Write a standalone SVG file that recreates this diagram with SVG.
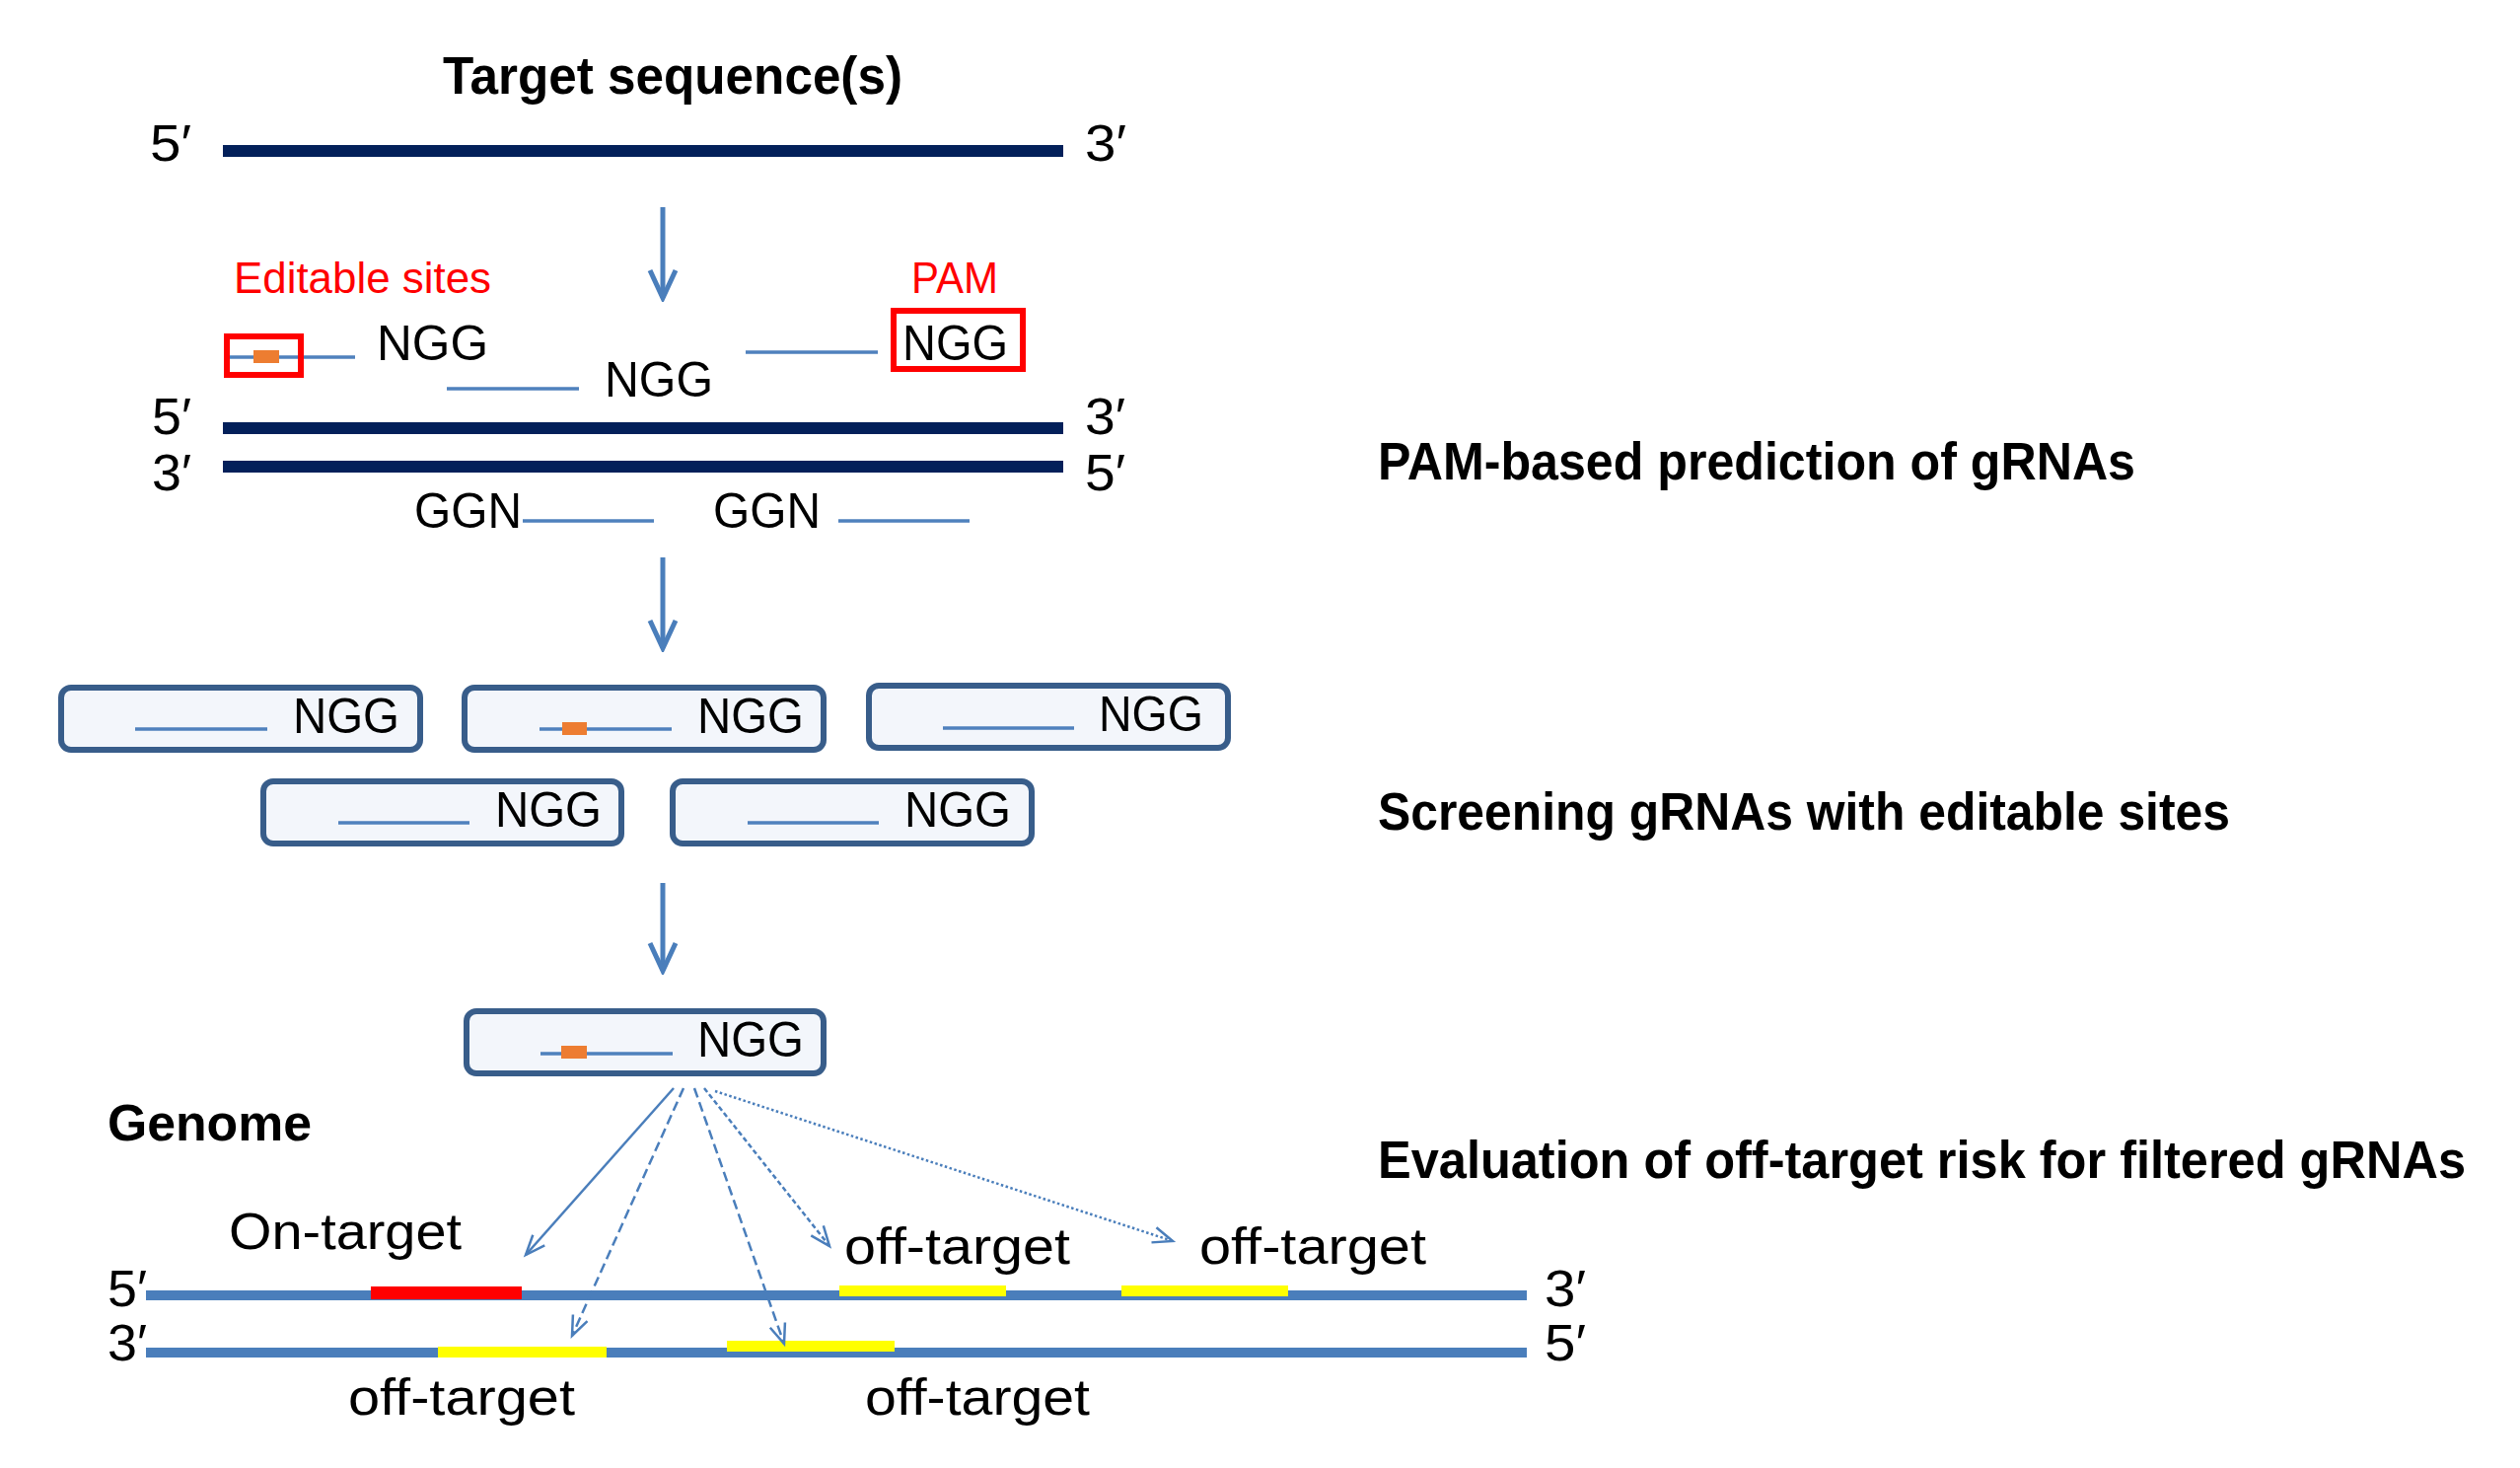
<svg xmlns="http://www.w3.org/2000/svg" width="2555" height="1488" viewBox="0 0 2555 1488">
<style>
text{font-family:"Liberation Sans",Arial,sans-serif;fill:#000}
.b{font-weight:bold}
.t52{font-size:52px}
.t50{font-size:50px}
.red{fill:#ff0000;font-size:44px}
.navy{stroke:#03205a;stroke-width:12;fill:none}
.thin{stroke:#4f81bd;stroke-width:3.5;fill:none}
.gbox{fill:#f3f6fb;stroke:#385d8a;stroke-width:6}
.orange{fill:#ed7d31}
.main{stroke:#4a7ebb;stroke-width:5;fill:none}
.fan{stroke:#4a7ebb;stroke-width:2.5;fill:none}
.strand{stroke:#4a7ebb;stroke-width:10;fill:none}
</style>
<defs>
<marker id="big" viewBox="-34 -18 38 36" markerWidth="38" markerHeight="36" refX="0" refY="0" orient="auto" markerUnits="userSpaceOnUse">
<path d="M-28,-13 L0,0 L-28,13" fill="none" stroke="#4a7ebb" stroke-width="5"/>
</marker>
<marker id="small" viewBox="-24 -12 28 24" markerWidth="28" markerHeight="24" refX="0" refY="0" orient="auto" markerUnits="userSpaceOnUse">
<path d="M-20,-8 L0,0 L-20,8" fill="none" stroke="#4a7ebb" stroke-width="2.5"/>
</marker>
</defs>
<rect width="2555" height="1488" fill="#fff"/>

<g id="target-sequence">
<text class="b" x="449" y="95" font-size="54" textLength="466" lengthAdjust="spacingAndGlyphs">Target sequence(s)</text>
<line class="navy" x1="226" y1="153" x2="1078" y2="153"/>
<text class="t52" x="152" y="163" textLength="42" lengthAdjust="spacingAndGlyphs">5′</text>
<text class="t52" x="1100" y="163" textLength="42" lengthAdjust="spacingAndGlyphs">3′</text>
</g>

<g id="pam-prediction">
<text class="red" x="237" y="297" textLength="261" lengthAdjust="spacingAndGlyphs">Editable sites</text>
<text class="red" x="924" y="297" textLength="88" lengthAdjust="spacingAndGlyphs">PAM</text>
<line class="thin" x1="227" y1="362" x2="360" y2="362"/>
<rect class="orange" x="257" y="355" width="26" height="13"/>
<rect x="230" y="341" width="75" height="39" fill="none" stroke="#ff0000" stroke-width="6"/>
<text class="t50" x="382" y="365" textLength="113" lengthAdjust="spacingAndGlyphs">NGG</text>
<line class="thin" x1="453" y1="394" x2="587" y2="394"/>
<text class="t50" x="613" y="402" textLength="110" lengthAdjust="spacingAndGlyphs">NGG</text>
<line class="thin" x1="756" y1="357" x2="890" y2="357"/>
<rect x="906" y="315" width="131" height="59" fill="none" stroke="#ff0000" stroke-width="6"/>
<text class="t50" x="915" y="365" textLength="107" lengthAdjust="spacingAndGlyphs">NGG</text>
<line class="navy" x1="226" y1="434" x2="1078" y2="434"/>
<line class="navy" x1="226" y1="473" x2="1078" y2="473"/>
<text class="t52" x="154" y="440" textLength="40" lengthAdjust="spacingAndGlyphs">5′</text>
<text class="t52" x="1100" y="440" textLength="41" lengthAdjust="spacingAndGlyphs">3′</text>
<text class="t52" x="154" y="497" textLength="40" lengthAdjust="spacingAndGlyphs">3′</text>
<text class="t52" x="1100" y="497" textLength="41" lengthAdjust="spacingAndGlyphs">5′</text>
<text class="t50" x="420" y="535" textLength="109" lengthAdjust="spacingAndGlyphs">GGN</text>
<line class="thin" x1="530" y1="528" x2="663" y2="528"/>
<text class="t50" x="723" y="535" textLength="109" lengthAdjust="spacingAndGlyphs">GGN</text>
<line class="thin" x1="850" y1="528" x2="983" y2="528"/>
</g>

<g id="grna-1">
<rect class="gbox" x="62" y="697" width="364" height="63" rx="10"/>
<line class="thin" x1="137" y1="739" x2="271" y2="739"/>
<text class="t50" x="297" y="743" textLength="108" lengthAdjust="spacingAndGlyphs">NGG</text>
</g>
<g id="grna-2">
<rect class="gbox" x="471" y="697" width="364" height="63" rx="10"/>
<line class="thin" x1="547" y1="739" x2="681" y2="739"/>
<rect class="orange" x="570" y="732" width="25" height="13"/>
<text class="t50" x="707" y="743" textLength="108" lengthAdjust="spacingAndGlyphs">NGG</text>
</g>
<g id="grna-3">
<rect class="gbox" x="881" y="695" width="364" height="63" rx="10"/>
<line class="thin" x1="956" y1="738" x2="1089" y2="738"/>
<text class="t50" x="1114" y="741" textLength="106" lengthAdjust="spacingAndGlyphs">NGG</text>
</g>
<g id="grna-4">
<rect class="gbox" x="267" y="792" width="363" height="63" rx="10"/>
<line class="thin" x1="343" y1="834" x2="476" y2="834"/>
<text class="t50" x="502" y="838" textLength="108" lengthAdjust="spacingAndGlyphs">NGG</text>
</g>
<g id="grna-5">
<rect class="gbox" x="682" y="792" width="364" height="63" rx="10"/>
<line class="thin" x1="758" y1="834" x2="891" y2="834"/>
<text class="t50" x="917" y="838" textLength="108" lengthAdjust="spacingAndGlyphs">NGG</text>
</g>

<g id="grna-filtered">
<rect class="gbox" x="473" y="1025" width="362" height="63" rx="10"/>
<line class="thin" x1="548" y1="1068" x2="682" y2="1068"/>
<rect class="orange" x="569" y="1060" width="26" height="13"/>
<text class="t50" x="707" y="1071" textLength="108" lengthAdjust="spacingAndGlyphs">NGG</text>
</g>

<g id="genome">
<text class="b t52" x="109" y="1156" textLength="207" lengthAdjust="spacingAndGlyphs">Genome</text>
<line class="strand" x1="148" y1="1313" x2="1548" y2="1313"/>
<line class="strand" x1="148" y1="1371" x2="1548" y2="1371"/>
<rect x="376" y="1304" width="153" height="13" fill="#ff0000"/>
<rect x="851" y="1303" width="169" height="11" fill="#ffff00"/>
<rect x="1137" y="1303" width="169" height="11" fill="#ffff00"/>
<rect x="444" y="1365" width="171" height="11" fill="#ffff00"/>
<rect x="737" y="1359" width="170" height="11" fill="#ffff00"/>
<text class="t52" x="109" y="1324" textLength="40" lengthAdjust="spacingAndGlyphs">5′</text>
<text class="t52" x="1566" y="1324" textLength="42" lengthAdjust="spacingAndGlyphs">3′</text>
<text class="t52" x="109" y="1379" textLength="40" lengthAdjust="spacingAndGlyphs">3′</text>
<text class="t52" x="1566" y="1379" textLength="42" lengthAdjust="spacingAndGlyphs">5′</text>
<text class="t52" x="232" y="1266" textLength="236" lengthAdjust="spacingAndGlyphs">On-target</text>
<text class="t52" x="856" y="1281" textLength="229" lengthAdjust="spacingAndGlyphs">off-target</text>
<text class="t52" x="1216" y="1281" textLength="230" lengthAdjust="spacingAndGlyphs">off-target</text>
<text class="t52" x="353" y="1434" textLength="230" lengthAdjust="spacingAndGlyphs">off-target</text>
<text class="t52" x="877" y="1434" textLength="228" lengthAdjust="spacingAndGlyphs">off-target</text>
</g>

<g id="step-labels">
<text class="b" font-size="54" x="1397" y="486" textLength="768" lengthAdjust="spacingAndGlyphs">PAM-based prediction of gRNAs</text>
<text class="b" font-size="54" x="1397" y="841" textLength="864" lengthAdjust="spacingAndGlyphs">Screening gRNAs with editable sites</text>
<text class="b" font-size="54" x="1397" y="1194" textLength="1103" lengthAdjust="spacingAndGlyphs">Evaluation of off-target risk for filtered gRNAs</text>
</g>

<g id="connectors">
<line class="main" x1="672" y1="210" x2="672" y2="302" marker-end="url(#big)"/>
<line class="main" x1="672" y1="565" x2="672" y2="657" marker-end="url(#big)"/>
<line class="main" x1="672" y1="895" x2="672" y2="984" marker-end="url(#big)"/>
<line class="fan" x1="683" y1="1103" x2="533" y2="1272" marker-end="url(#small)"/>
<line class="fan" x1="693" y1="1103" x2="580" y2="1354" stroke-dasharray="10 5" marker-end="url(#small)"/>
<line class="fan" x1="704" y1="1103" x2="795" y2="1362" stroke-dasharray="10 5" marker-end="url(#small)"/>
<line class="fan" x1="714" y1="1103" x2="841" y2="1263" stroke-dasharray="5 3" marker-end="url(#small)"/>
<line class="fan" x1="725" y1="1106" x2="1189" y2="1258" stroke-width="3" stroke-dasharray="2.5 2.5" marker-end="url(#small)"/>
</g>
</svg>
